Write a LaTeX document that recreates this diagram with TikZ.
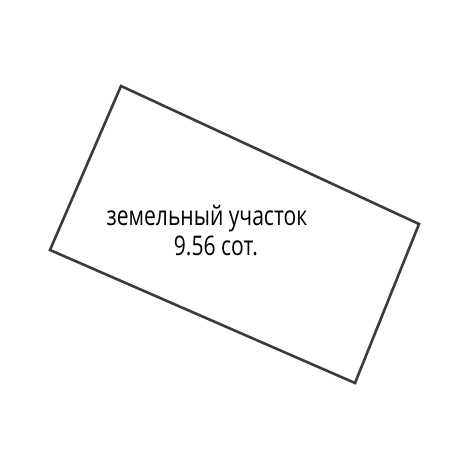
\documentclass[tikz,border=0pt]{standalone}
\usepackage{fontspec}
\newfontfamily\plotfont[FakeStretch=0.78]{Open Sans}
\definecolor{edge}{cmyk}{0.00,0.00,0.00,0.88}
\usetikzlibrary{positioning}
\tikzstyle{base}=[x=1pt, y=-1pt, inner sep=0pt, outer sep=0pt]
\tikzstyle{plot}=[edge, line width=2.6pt, line join=miter]
\tikzstyle{label}=[anchor=base, font=\plotfont\fontsize{27}{32}\selectfont]

\begin{document}
\begin{tikzpicture}[base]
    \path [use as bounding box] (0,0) rectangle (470,470);
        \coordinate (nw) at (121,86);
        \coordinate (ne) at (419,224);
        \coordinate (se) at (355,383);
        \coordinate (sw) at (50,250);
        \draw [plot] (nw) -- (ne) -- (se) -- (sw) -- cycle;
        \node [label] (area) at (207,225) {земельный участок};
        \node [label] (size) at (216,255) {9.56 сот.};
    \end{tikzpicture}
\end{document}
